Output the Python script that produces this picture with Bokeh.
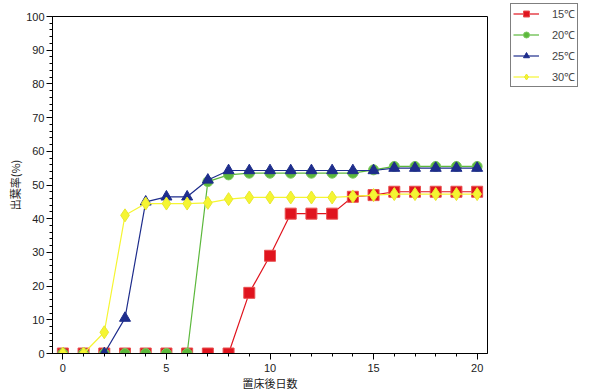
from bokeh.plotting import figure
from bokeh.models import Legend, LegendItem, FixedTicker, Range1d
from bokeh.embed import file_html
from bokeh.resources import INLINE

days = list(range(0, 21))
t15 = [0, 0, 0, 0, 0, 0, 0, 0, 0, 18, 29, 41.5, 41.5, 41.5, 46.5, 47, 48, 48, 48, 48, 48]
t20 = [0, 0, 0, 0, 0, 0, 0, 51, 53, 53.5, 53.5, 53.5, 53.5, 53.5, 53.5, 54.5, 55.5, 55.5, 55.5, 55.5, 55.5]
t25 = [0, 0, 0, 10.5, 45, 46.5, 46.5, 51.5, 54.3, 54.3, 54.3, 54.3, 54.3, 54.3, 54.3, 54.3, 55, 55, 55, 55, 55]
t30 = [0, 0, 6.3, 41, 44.5, 44.5, 44.5, 44.7, 45.8, 46.3, 46.3, 46.3, 46.3, 46.3, 46.6, 47, 47.3, 47.3, 47.3, 47.3, 47.3]
labels = ["15℃", "20℃", "25℃", "30℃"]

FONT = "Liberation Sans"
JFONT = "Noto Sans CJK JP"

p = figure(frame_width=435, frame_height=337, output_backend="svg", toolbar_location=None,
           x_range=Range1d(-0.5, 20.5), y_range=Range1d(0, 100),
           min_border_left=52, min_border_top=16, min_border_bottom=20, min_border_right=0)

p.xgrid.visible = False
p.ygrid.visible = False
p.outline_line_color = "black"
p.outline_line_width = 1

p.xaxis.ticker = FixedTicker(ticks=[0, 5, 10, 15, 20], minor_ticks=list(range(0, 21)))
p.yaxis.ticker = FixedTicker(ticks=list(range(0, 101, 10)), minor_ticks=list(range(0, 101, 2)))
for ax in (p.xaxis[0], p.yaxis[0]):
    ax.axis_line_color = "black"
    ax.major_tick_line_color = "black"
    ax.minor_tick_line_color = "black"
    ax.major_tick_out = 6
    ax.major_tick_in = 0
    ax.minor_tick_out = 3
    ax.minor_tick_in = 0
    ax.major_label_text_font = FONT
    ax.major_label_text_font_size = "11px"
    ax.major_label_text_color = "#222222"
    ax.axis_label_text_font = JFONT
    ax.axis_label_text_font_size = "11px"
    ax.axis_label_text_font_style = "normal"
    ax.axis_label_text_color = "#222222"
p.xaxis.axis_label = "置床後日数"
p.yaxis.axis_label = "出葉率(%)"
p.xaxis.axis_label_standoff = 0
p.yaxis.axis_label_standoff = 0
p.yaxis.major_label_standoff = 2
p.xaxis.major_label_standoff = 4

red, green, blue, yellow = "#e0141e", "#5cb83c", "#1e2d8c", "#f5f532"

l1 = p.line(days, t15, line_color=red, line_width=1.2)
m1 = p.scatter(days, t15, marker="square", size=11, fill_color=red, line_color="#e85050")
l2 = p.line(days, t20, line_color=green, line_width=1.2)
m2 = p.scatter(days, t20, marker="circle", size=10, fill_color=green, line_color="#7cc860")
l3 = p.line(days, t25, line_color=blue, line_width=1.2)
m3 = p.scatter(days, t25, marker="triangle", size=11, fill_color=blue, line_color=blue)
l4 = p.line(days, t30, line_color=yellow, line_width=1.2)
m4 = p.scatter(days, t30, marker="diamond", size=13, fill_color=yellow, line_color="#e8e830")

legend = Legend(items=[LegendItem(label=labels[0], renderers=[l1, m1]),
                       LegendItem(label=labels[1], renderers=[l2, m2]),
                       LegendItem(label=labels[2], renderers=[l3, m3]),
                       LegendItem(label=labels[3], renderers=[l4, m4])],
                location=(23, 266), margin=0, padding=2, spacing=6,
                label_text_font=FONT, label_text_font_size="11px",
                label_standoff=13, glyph_width=26, glyph_height=15, label_height=15,
                label_width=20,
                border_line_color="black", border_line_width=1,
                background_fill_color="white")
p.add_layout(legend, "right")

open("out.html", "w").write(file_html(p, INLINE))
